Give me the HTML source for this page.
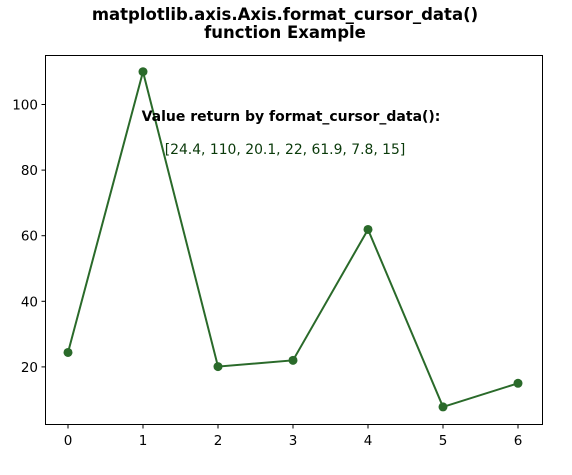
<!DOCTYPE html>
<html><head><meta charset="utf-8"><style>
body{margin:0;background:#fff;}
text{font-family:"DejaVu Sans","Liberation Sans",sans-serif;}
</style></head><body>
<svg id="chart" width="572" height="470" xmlns="http://www.w3.org/2000/svg">
<rect width="572" height="470" fill="#fff"/>
<text x="285" y="20" text-anchor="middle" font-size="16.5" font-weight="bold">matplotlib.axis.Axis.format_cursor_data()</text>
<text x="285" y="38" text-anchor="middle" font-size="16.5" font-weight="bold">function Example</text>
<rect x="45.5" y="55.5" width="497" height="369" fill="none" stroke="#000" stroke-width="1"/>
<g id="ticks"></g>
<path id="line" fill="none" stroke="#2a6a2a" stroke-width="2"/>
<g id="points"></g>
<text x="291" y="121" text-anchor="middle" font-size="14" font-weight="bold">Value return by format_cursor_data():</text>
<text x="285" y="154" text-anchor="middle" font-size="13.9" fill="#0a3a0a">[24.4, 110, 20.1, 22, 61.9, 7.8, 15]</text>
</svg>
<script>
const xValues=[0,1,2,3,4,5,6];
const yValues=[24.4,110,20.1,22,61.9,7.8,15];
const xTicks=[0,1,2,3,4,5,6];
const yTicks=[20,40,60,80,100];
const NS="http://www.w3.org/2000/svg";
const sx=v=>68+v*75;
const sy=v=>432.5-v*3.28;
const tg=document.getElementById('ticks');
function mk(t,a,p){const e=document.createElementNS(NS,t);for(const k in a)e.setAttribute(k,a[k]);p.appendChild(e);return e;}
xTicks.forEach(t=>{
 const l=mk('line',{x1:sx(t),x2:sx(t),y1:424.5,y2:428.5,stroke:'#000'},tg);
 
 
 const tx=mk('text',{x:sx(t),y:445,'text-anchor':'middle','font-size':'13.5'},tg);tx.textContent=t;
 
 
});
yTicks.forEach(t=>{
 const l=mk('line',{x1:41.5,x2:45.5,y1:sy(t),y2:sy(t),stroke:'#000'},tg);
 
 
 const tx=mk('text',{x:38,y:sy(t)+5,'text-anchor':'end','font-size':'13.5'},tg);tx.textContent=t;
 
 
});
document.getElementById('line').setAttribute('d',xValues.map((x,i)=>(i?'L':'M')+sx(x)+','+sy(yValues[i])).join(''));
const pg=document.getElementById('points');
xValues.forEach((x,i)=>{
 const c=mk('circle',{cx:sx(x),cy:sy(yValues[i]),r:4.5,fill:'#2a6a2a'},pg);
 
 
});
</script>
</body></html>
